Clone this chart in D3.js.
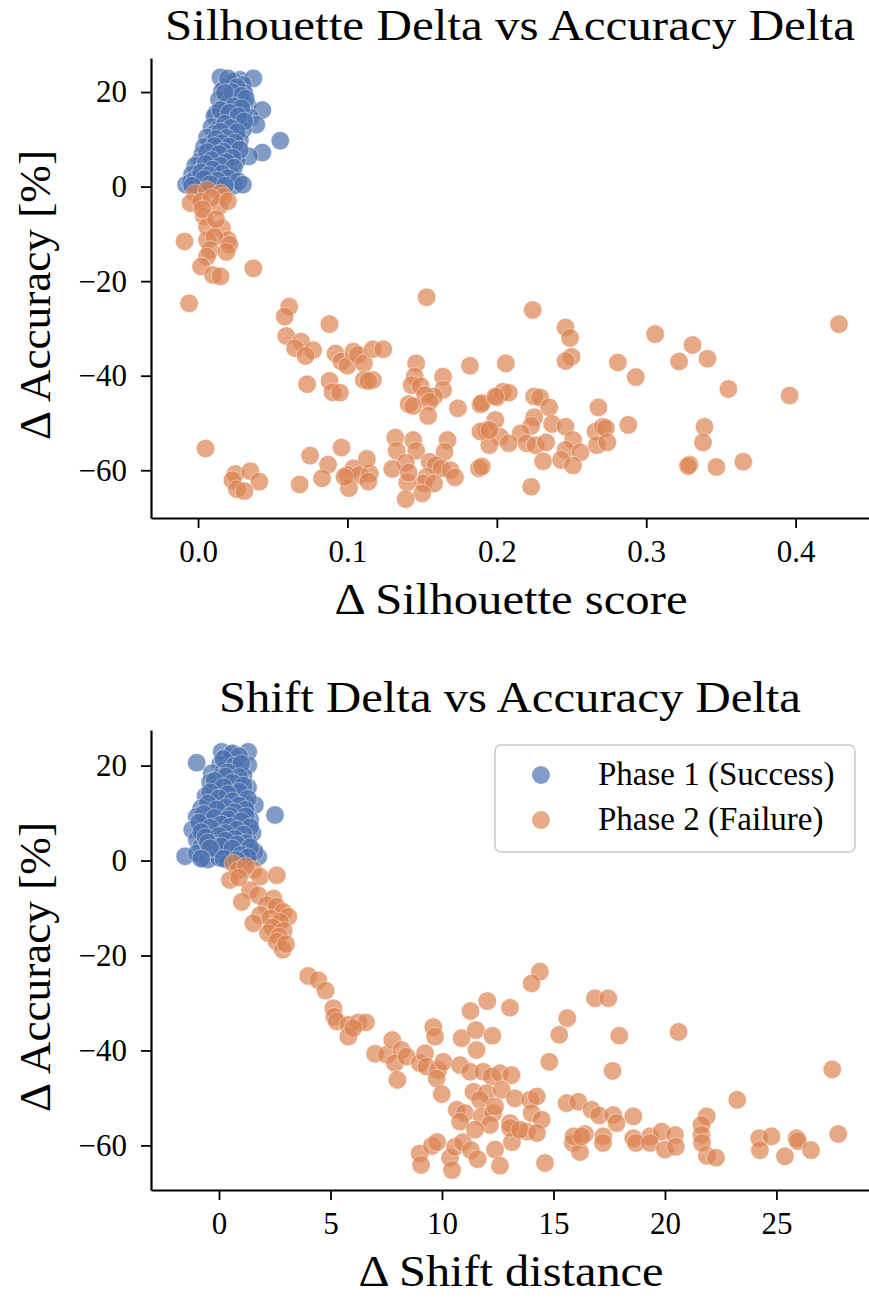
<!DOCTYPE html>
<html>
<head>
<meta charset="utf-8">
<script src="https://cdn.jsdelivr.net/npm/d3@7"></script>
<style>
  body { margin: 0; background: #fff; }
  svg { display: block; font-family: "Liberation Serif", "DejaVu Serif", serif; }
</style>
</head>
<body>
<div id="chart"></div>
<script>
const width = 869, height = 1300;

// Phase 1 (success): [delta silhouette, delta accuracy]
const silPhase1 = [
  [0.015,23.1],[0.028,22.6],[0.037,22.9],[0.021,21.8],[0.024,22.2],[0.018,21.0],[0.030,21.5],
  [0.016,20.2],[0.022,19.6],[0.027,20.5],[0.019,19.0],[0.025,18.7],[0.031,19.8],[0.014,18.4],
  [0.028,18.1],[0.020,17.6],[0.033,17.2],[0.017,16.8],[0.043,16.2],[0.023,16.4],[0.026,15.7],
  [0.012,15.5],[0.019,15.1],[0.030,15.4],[0.011,14.8],[0.035,14.6],[0.021,14.3],[0.016,13.9],
  [0.039,13.1],[0.027,13.4],[0.024,12.8],[0.009,12.6],[0.014,12.2],[0.020,11.8],[0.030,12.0],
  [0.011,11.2],[0.025,11.0],[0.017,10.6],[0.006,10.4],[0.022,10.1],[0.028,9.8],[0.055,9.7],
  [0.013,9.5],[0.008,9.0],[0.019,8.8],[0.004,8.4],[0.015,8.1],[0.024,8.3],[0.010,7.6],
  [0.043,7.2],[0.020,7.0],[0.003,6.9],[0.034,6.4],[0.012,6.5],[0.007,6.0],[0.017,5.8],
  [0.026,5.5],[0.001,5.3],[0.010,5.0],[0.021,4.7],[-0.002,4.4],[0.006,4.1],[0.014,3.9],
  [0.003,3.4],[0.018,3.2],[0.009,2.9],[-0.004,2.6],[0.012,2.3],[0.001,2.0],[0.022,2.5],
  [0.006,1.7],[-0.008,0.4],[-0.005,0.9],[0.000,1.2],[0.004,0.6],[0.009,1.0],[0.014,0.5],
  [0.019,0.8],[0.024,0.2],[0.002,0.1],[-0.002,1.5],[0.011,0.3],[0.016,1.4],
  [0.020,22.9],[0.026,21.0],[0.023,20.0],[0.029,19.2],[0.018,19.8],[0.032,18.6],[0.024,17.0],
  [0.029,16.6],[0.015,16.2],[0.021,15.6],[0.027,14.9],[0.031,13.8],[0.018,13.3],[0.022,12.4],
  [0.026,11.5],[0.015,11.6],[0.019,10.3],[0.012,10.1],[0.025,9.3],[0.016,9.2],[0.021,8.5],
  [0.011,8.6],[0.028,7.8],[0.017,7.4],[0.006,7.3],[0.014,6.9],[0.023,6.1],[0.009,5.6],
  [0.019,5.2],[0.005,4.8],[0.015,4.4],[0.024,4.0],[0.010,3.6],[0.002,3.0],[0.016,2.7],
  [0.007,2.4],[0.020,1.8],[0.013,1.3],[0.004,1.6],[0.027,1.1],[0.008,0.5],[-0.004,0.2],
  [0.018,0.2],[0.030,0.4]
];

// Phase 2 (failure): [delta silhouette, delta accuracy]
const silPhase2 = [
  [-0.002,-1.4],[0.006,-0.7],[0.015,-1.4],[-0.005,-3.5],[0.002,-3.2],[0.014,-4.2],[0.017,-2.1],
  [0.004,-6.3],[0.006,-8.5],[0.016,-8.8],[0.020,-11.3],[0.006,-11.3],[0.011,-10.6],[0.021,-12.3],
  [0.008,-13.4],[0.019,-13.8],[0.006,-14.8],[0.002,-16.9],[0.010,-18.7],[0.015,-19.0],[0.037,-17.3],
  [-0.009,-11.6],[-0.006,-24.7],[0.061,-25.4],[0.058,-27.5],[0.088,-29.1],[0.059,-31.6],[0.069,-32.8],
  [0.065,-34.2],[0.077,-34.6],[0.072,-35.8],[0.092,-35.3],[0.096,-37.0],[0.100,-37.9],[0.104,-34.9],
  [0.107,-35.6],[0.111,-37.4],[0.117,-34.4],[0.124,-34.4],[0.073,-41.8],[0.088,-41.1],[0.090,-43.5],
  [0.095,-43.6],[0.111,-40.9],[0.117,-40.9],[0.114,-41.1],[0.146,-37.4],[0.145,-40.2],[0.143,-42.0],
  [0.149,-42.2],[0.164,-40.2],[0.164,-43.0],[0.158,-44.4],[0.152,-44.1],[0.155,-45.5],[0.141,-46.0],
  [0.144,-46.4],[0.154,-48.5],[0.174,-46.9],[0.182,-37.9],[0.189,-46.1],[0.153,-23.4],[0.005,-55.4],
  [0.132,-53.1],[0.133,-55.9],[0.144,-53.6],[0.146,-55.9],[0.139,-58.4],[0.130,-59.7],[0.167,-53.6],
  [0.165,-56.1],[0.155,-58.2],[0.159,-58.9],[0.163,-59.6],[0.169,-60.0],[0.172,-61.5],[0.153,-61.4],
  [0.151,-62.8],[0.158,-62.8],[0.150,-64.9],[0.140,-62.6],[0.139,-66.1],[0.188,-59.6],[0.075,-56.9],
  [0.087,-58.8],[0.096,-55.2],[0.083,-61.7],[0.068,-63.0],[0.025,-60.8],[0.023,-62.1],[0.035,-60.2],
  [0.041,-62.4],[0.026,-64.0],[0.031,-64.4],[0.104,-59.6],[0.100,-61.0],[0.108,-61.0],[0.115,-60.7],
  [0.113,-57.6],[0.114,-62.4],[0.101,-63.8],[0.098,-61.4],[0.141,-60.5],
  [0.224,-26.1],[0.429,-29.1],[0.246,-29.8],[0.249,-32.0],[0.306,-31.2],[0.331,-33.5],[0.206,-37.4],
  [0.250,-36.0],[0.246,-36.9],[0.281,-37.2],[0.293,-40.3],[0.322,-37.0],[0.341,-36.4],[0.355,-42.8],
  [0.396,-44.2],[0.190,-45.8],[0.200,-44.6],[0.204,-43.4],[0.208,-43.6],[0.225,-44.4],[0.229,-44.6],
  [0.235,-46.7],[0.268,-46.7],[0.199,-49.4],[0.225,-48.8],[0.223,-50.6],[0.237,-50.2],[0.246,-50.8],
  [0.288,-50.4],[0.266,-51.8],[0.271,-50.8],[0.273,-51.1],[0.193,-51.5],[0.202,-52.9],[0.216,-52.2],
  [0.208,-54.3],[0.195,-54.7],[0.220,-54.3],[0.226,-54.7],[0.233,-54.1],[0.251,-53.6],[0.246,-55.7],
  [0.256,-56.2],[0.267,-54.7],[0.274,-54.1],[0.231,-58.1],[0.243,-57.8],[0.251,-59.0],[0.190,-59.2],
  [0.223,-63.5],[0.339,-50.8],[0.338,-54.1],[0.329,-58.8],[0.328,-59.1],[0.347,-59.3],[0.365,-58.2],
  [0.189,-51.8],[0.195,-51.5],[0.199,-44.4],
  [0.009,-2.4],[0.020,-3.1],[0.003,-4.8],[0.012,-6.9]
];

// Phase 1 (success): [delta shift distance, delta accuracy]
const shiftPhase1 = [
  [0.12,22.9],[1.31,22.9],[1.31,20.1],[-1.0,20.6],[0.3,21.8],[0.55,22.3],[0.8,21.2],[0.05,20.3],
  [0.45,19.7],[0.95,19.2],[-0.33,18.4],[0.2,18.9],[0.7,18.3],[1.1,17.8],[0.0,17.4],[0.5,17.0],
  [-0.4,16.5],[0.3,16.2],[0.9,16.0],[1.3,15.4],[-0.2,15.1],[0.6,14.8],[0.1,14.2],[1.0,13.9],
  [-0.6,13.6],[0.4,13.3],[0.8,12.8],[1.61,11.7],[-0.1,12.4],[1.2,12.1],[0.2,11.8],[2.51,9.6],
  [-0.8,11.0],[0.6,10.9],[-0.3,10.3],[1.0,10.0],[0.3,9.7],[-1.0,9.2],[0.9,9.0],[1.4,8.6],
  [-0.5,8.4],[0.2,8.1],[0.7,7.6],[-0.78,7.1],[1.1,7.3],[0.0,6.8],[-1.2,6.5],[0.5,6.2],
  [1.5,5.8],[-0.4,5.5],[0.9,5.1],[0.1,4.8],[-1.0,4.4],[1.3,4.2],[0.6,3.9],[-0.2,3.5],
  [1.0,3.2],[-0.8,3.0],[0.3,2.7],[1.76,0.8],[-1.52,0.9],[-0.70,0.5],[0.8,2.2],[-0.3,1.9],
  [1.4,1.6],[0.2,1.3],[-1.0,1.5],[0.6,0.9],[1.1,0.3],[-0.5,0.2],[0.0,0.6],[0.4,0.1],
  [1.6,1.9],[-0.1,2.4],
  [0.6,22.6],[0.9,22.0],[0.2,21.4],[0.7,20.0],[1.0,20.4],[0.4,18.6],[0.9,17.6],[0.3,17.7],
  [-0.2,16.8],[0.6,16.4],[1.1,15.8],[0.2,15.5],[0.9,14.5],[-0.4,14.4],[0.4,14.0],[1.3,13.0],
  [0.0,13.1],[0.6,12.5],[-0.5,12.0],[0.9,11.6],[0.3,11.2],[1.2,10.7],[-0.1,10.8],[0.7,10.2],
  [-0.7,9.8],[0.5,9.4],[1.2,9.3],[-0.2,9.0],[0.4,8.7],[1.0,8.3],[-0.9,8.0],[0.1,7.6],
  [1.4,7.0],[0.5,7.1],[-0.4,6.9],[0.8,6.5],[-0.8,6.0],[0.3,5.8],[1.1,5.5],[0.0,5.2],
  [-0.6,4.9],[0.7,4.6],[1.2,3.7],[0.3,4.2],[-0.5,3.8],[0.8,3.4],[0.1,3.0],[1.4,2.8],
  [-0.4,2.6],[0.6,2.5],[1.0,1.2],[0.2,0.4],[-0.8,0.4],[1.3,0.7],[0.8,0.1]
];

// Phase 2 (failure): [delta shift distance, delta accuracy]
const shiftPhase2 = [
  [0.64,-0.6],[0.87,-2.0],[0.49,-4.1],[1.54,-2.0],[1.84,-3.4],[2.59,-3.1],[1.39,-6.2],[1.76,-7.3],
  [1.02,-8.7],[2.44,-8.0],[2.14,-9.4],[2.59,-9.7],[2.88,-10.8],[3.11,-11.8],[1.84,-11.5],[2.29,-12.2],
  [2.74,-12.9],[1.54,-13.2],[2.4,-14.1],[2.9,-14.8],[2.2,-15.3],[2.7,-16.0],[2.59,-17.1],[2.86,-18.8],
  [3.0,-17.6],[1.2,-1.2],[0.9,-3.6],
  [4.00,-24.3],[4.45,-25.2],[4.78,-27.4],[5.13,-31.1],[5.17,-32.9],[5.28,-33.9],[5.80,-34.6],
  [5.80,-37.1],[6.25,-34.1],[6.59,-34.1],[6.02,-35.3],[7.00,-40.7],[7.52,-40.9],[7.77,-37.8],
  [8.19,-39.9],[7.89,-42.7],[8.00,-46.2],[8.42,-41.3],[9.01,-42.7],[9.24,-40.6],[9.61,-35.1],
  [9.69,-37.1],[9.31,-43.4],[9.83,-44.1],[10.06,-42.4],[9.76,-45.9],[9.99,-49.2],[10.81,-43.1],
  [10.88,-37.4],[11.28,-31.7],[12.03,-29.6],[13.05,-31.0],[11.52,-35.7],[12.26,-36.9],[11.55,-39.9],
  [11.26,-44.5],[11.85,-44.5],[12.23,-45.5],[12.60,-44.8],[13.12,-45.2],[11.41,-48.7],[12.0,-49.0],
  [11.70,-50.4],[12.68,-48.3],[13.27,-50.1],[13.95,-50.4],[14.25,-49.7],[14.02,-53.2],[14.47,-54.6],
  [13.80,-57.1],[14.39,-23.4],[14.02,-25.9],[15.62,-33.2],[15.26,-36.7],[14.81,-42.4],[15.59,-51.1],
  [10.66,-52.5],[11.03,-53.2],[10.81,-55.0],[11.78,-53.9],[12.30,-53.2],[12.15,-55.7],[13.05,-55.3],
  [12.38,-51.8],
  [9.0,-61.7],[9.06,-64.1],[9.55,-60.1],[9.78,-59.3],[10.36,-62.6],[10.45,-65.2],[10.58,-60.3],
  [10.94,-59.3],[11.3,-61.0],[11.48,-56.7],[11.6,-62.9],[12.38,-60.9],[12.60,-64.3],[13.14,-59.3],
  [13.05,-56.3],[13.5,-56.7],[14.26,-57.4],[14.62,-63.7],[15.87,-59.5],[16.19,-61.4],[16.41,-57.6],
  [16.86,-29.0],[17.46,-29.0],[17.95,-36.9],[20.61,-36.1],[17.65,-44.3],[27.50,-44.0],[23.24,-50.4],
  [16.11,-50.8],[16.71,-52.5],[17.05,-53.7],[17.68,-53.6],[17.83,-55.3],[18.58,-53.9],[21.87,-53.9],
  [21.64,-55.7],[21.64,-57.8],[27.77,-57.6],[24.23,-58.5],[24.78,-58.1],[25.9,-58.5],[17.23,-58.1],
  [15.9,-58.1],[16.27,-58.1],[19.33,-58.1],[19.85,-57.1],[20.45,-57.8],[18.58,-58.5],[18.70,-59.5],
  [19.33,-59.5],[20.0,-60.9],[20.49,-60.3],[21.88,-62.2],[22.29,-62.6],[24.26,-61.0],[25.38,-62.3],
  [25.96,-59.1],[26.55,-61.0],[17.22,-59.5],[21.66,-59.5]
];

const legendLabels = ["Phase 1 (Success)", "Phase 2 (Failure)"];
const colors = ["#4c72b0", "#dd8452"];

const svg = d3.select("#chart").append("svg")
  .attr("width", width)
  .attr("height", height);

function panel(cfg) {
  const x = d3.scaleLinear().domain(cfg.xDomain).range([151, 873]);
  const y = d3.scaleLinear().domain(cfg.yDomain).range([cfg.bottom, cfg.bottom - 460]);

  const g = svg.append("g");

  // Points: phase 1 first, phase 2 on top
  [cfg.p1, cfg.p2].forEach((pts, i) => {
    g.append("g").selectAll("circle")
      .data(pts)
      .join("circle")
      .attr("cx", d => x(d[0]))
      .attr("cy", d => y(d[1]))
      .attr("r", 9.3)
      .attr("fill", colors[i])
      .attr("stroke", "#fff")
      .attr("stroke-width", 0.6)
      .attr("opacity", 0.7);
  });

  // Axes
  const xAxis = g.append("g")
    .attr("transform", `translate(0,${cfg.bottom})`)
    .call(d3.axisBottom(x).tickValues(cfg.xTicks).tickFormat(cfg.xFormat)
      .tickSize(10).tickSizeOuter(0).tickPadding(12));
  const yAxis = g.append("g")
    .attr("transform", "translate(151,0)")
    .call(d3.axisLeft(y).tickValues([-60, -40, -20, 0, 20])
      .tickSize(10).tickSizeOuter(0).tickPadding(14));

  [xAxis, yAxis].forEach(a => {
    a.select(".domain").attr("stroke", "#000").attr("stroke-width", 2.2);
    a.selectAll(".tick line").attr("stroke", "#000").attr("stroke-width", 1.8);
    a.selectAll(".tick text")
      .attr("fill", "#000")
      .style("font-family", "Liberation Serif, serif")
      .style("font-size", "31px");
  });

  // Title
  svg.append("text")
    .attr("x", 510)
    .attr("y", cfg.bottom - 478)
    .attr("text-anchor", "middle")
    .attr("textLength", cfg.titleLen)
    .attr("lengthAdjust", "spacingAndGlyphs")
    .style("font-size", "45px")
    .text(cfg.title);

  // x label
  svg.append("text")
    .attr("x", 511)
    .attr("y", cfg.bottom + 96)
    .attr("text-anchor", "middle")
    .attr("textLength", cfg.xLabelLen)
    .attr("lengthAdjust", "spacingAndGlyphs")
    .style("font-size", "44px")
    .text(cfg.xLabel);

  // y label
  svg.append("text")
    .attr("transform", `translate(50,${cfg.bottom - 223}) rotate(-90)`)
    .attr("text-anchor", "middle")
    .attr("textLength", 290)
    .attr("lengthAdjust", "spacingAndGlyphs")
    .style("font-size", "44px")
    .text("Δ Accuracy [%]");
}

panel({
  title: "Silhouette Delta vs Accuracy Delta",
  titleLen: 690,
  xLabel: "Δ Silhouette score",
  xLabelLen: 353,
  xDomain: [-0.0315, 0.4518],
  yDomain: [-70.1, 27.2],
  bottom: 518,
  xTicks: [0, 0.1, 0.2, 0.3, 0.4],
  xFormat: d3.format(".1f"),
  p1: silPhase1,
  p2: silPhase2
});

panel({
  title: "Shift Delta vs Accuracy Delta",
  titleLen: 582,
  xLabel: "Δ Shift distance",
  xLabelLen: 305,
  xDomain: [-3.05, 29.33],
  yDomain: [-69.4, 27.5],
  bottom: 1190,
  xTicks: [0, 5, 10, 15, 20, 25],
  xFormat: d3.format("d"),
  p1: shiftPhase1,
  p2: shiftPhase2
});

// Legend (bottom panel)
const legend = svg.append("g").attr("transform", "translate(495,745)");
legend.append("rect")
  .attr("width", 360)
  .attr("height", 107)
  .attr("rx", 6)
  .attr("fill", "#fff")
  .attr("fill-opacity", 0.8)
  .attr("stroke", "#ccc")
  .attr("stroke-width", 1.6);

legendLabels.forEach((label, i) => {
  const row = legend.append("g").attr("transform", `translate(0,${30 + i * 45})`);
  row.append("circle")
    .attr("cx", 46)
    .attr("r", 9)
    .attr("fill", colors[i])
    .attr("opacity", 0.7);
  row.append("text")
    .attr("x", 103)
    .attr("y", 10)
    .style("font-size", "33px")
    .text(label);
});
</script>
</body>
</html>
